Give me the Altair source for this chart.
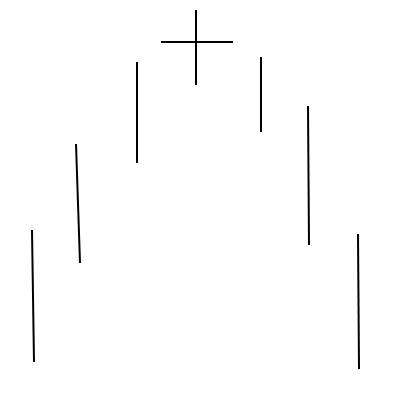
import altair as alt
import pandas as pd

# Segment endpoints (drawing units; y grows downward)
seg_x1 = [32, 76, 137, 161, 196, 261, 308, 358]
seg_y1 = [230, 144, 62, 42, 10, 57, 106, 234]
seg_x2 = [34, 80, 137, 233, 196, 261, 309, 359]
seg_y2 = [362, 263, 163, 42, 85, 132, 245, 369]

df = pd.DataFrame({"x1": seg_x1, "y1": seg_y1, "x2": seg_x2, "y2": seg_y2})

xs = alt.Scale(domain=[8, 392], nice=False, zero=False)
ys = alt.Scale(domain=[8, 392], nice=False, zero=False, reverse=True)

chart = (
    alt.Chart(df)
    .mark_rule(color="black", strokeWidth=2)
    .encode(
        x=alt.X("x1:Q", scale=xs, axis=None),
        y=alt.Y("y1:Q", scale=ys, axis=None),
        x2="x2:Q",
        y2="y2:Q",
    )
    .properties(width=384, height=384, padding=0, autosize=alt.AutoSizeParams(type="none"))
    .configure_view(stroke=None)
)

chart.save("out.html", embed_options={"renderer": "svg", "actions": False})
